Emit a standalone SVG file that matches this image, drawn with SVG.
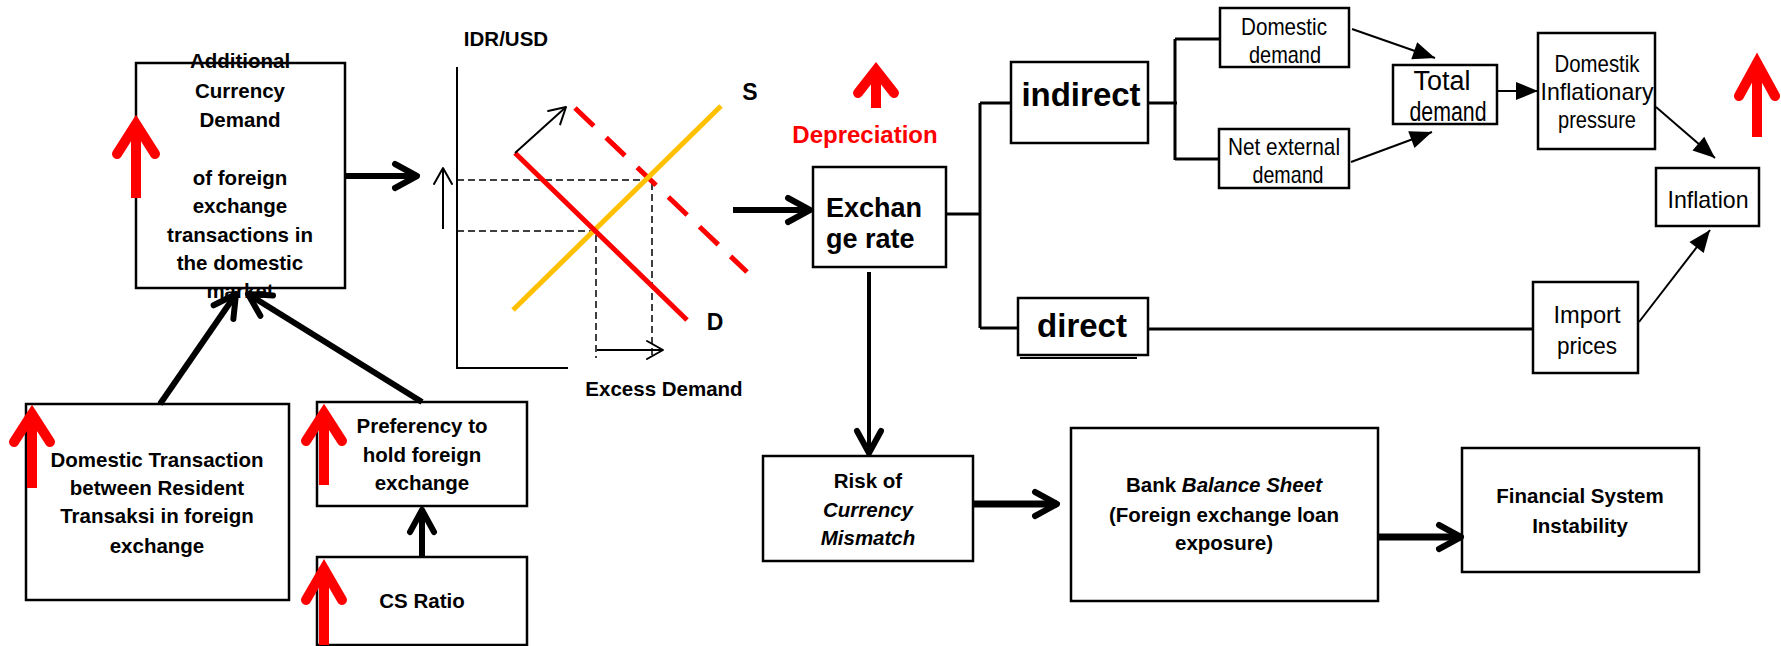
<svg xmlns="http://www.w3.org/2000/svg" width="1781" height="646" viewBox="0 0 1781 646">
<style>
.box{fill:#fff;stroke:#000;stroke-width:2.5}
.cal{font-family:"Liberation Sans",Arial,sans-serif;font-weight:bold;font-size:20.5px;text-anchor:middle;fill:#000}
.tah{font-family:"Liberation Sans",Arial,sans-serif;font-size:24px;text-anchor:middle;fill:#000}
.big{font-family:"Liberation Sans",Arial,sans-serif;font-weight:bold;font-size:33px;text-anchor:middle;fill:#000}
.thick{stroke:#000;stroke-width:6;fill:none;marker-end:url(#chev)}
.mid{stroke:#000;stroke-width:4;fill:none;marker-end:url(#chev)}
.thin{stroke:#000;stroke-width:2;fill:none;marker-end:url(#chevThin)}
.tri{stroke:#000;stroke-width:2;fill:none;marker-end:url(#tri)}
.line3{stroke:#000;stroke-width:3;fill:none}
.guide{stroke:#000;stroke-width:1.5;stroke-dasharray:7 4;fill:none}
.rshaft{stroke:#f00;stroke-width:10;fill:none}
.rhead{stroke:#f00;stroke-width:10;fill:none;stroke-linecap:round;stroke-linejoin:miter}
</style>
<defs>
<marker id="chev" markerUnits="userSpaceOnUse" orient="auto" overflow="visible" markerWidth="1" markerHeight="1" refX="0" refY="0"><path d="M-22,-12 L0,0 L-22,12" fill="none" stroke="#000" stroke-width="6" stroke-linecap="round" stroke-linejoin="round"/></marker>
<marker id="chevThin" markerUnits="userSpaceOnUse" orient="auto" overflow="visible" markerWidth="1" markerHeight="1" refX="0" refY="0"><path d="M-16,-9 L0,0 L-16,9" fill="none" stroke="#000" stroke-width="2" stroke-linecap="round" stroke-linejoin="round"/></marker>
<marker id="tri" markerUnits="userSpaceOnUse" orient="auto" overflow="visible" markerWidth="1" markerHeight="1" refX="0" refY="0"><path d="M-22,-9 L0,0 L-22,9 Z" fill="#000"/></marker>
</defs>
<rect width="1781" height="646" fill="#fff"/>

<g id="node-currency-demand">
<rect class="box" x="136" y="63" width="209" height="225"/>
<text class="cal" x="240" y="68">Additional</text>
<text class="cal" x="240" y="98">Currency</text>
<text class="cal" x="240" y="127">Demand</text>
<text class="cal" x="240" y="185">of foreign</text>
<text class="cal" x="240" y="213">exchange</text>
<text class="cal" x="240" y="242">transactions in</text>
<text class="cal" x="240" y="270">the domestic</text>
<text class="cal" x="240" y="298">market</text>
<path class="rshaft" d="M136,198 V122"/>
<path class="rhead" d="M117,154 L136,124 L155,154"/>
</g>

<g id="node-domestic-transaction">
<rect class="box" x="26" y="404" width="263" height="196"/>
<text class="cal" x="157" y="467">Domestic Transaction</text>
<text class="cal" x="157" y="495">between Resident</text>
<text class="cal" x="157" y="523">Transaksi in foreign</text>
<text class="cal" x="157" y="553">exchange</text>
<path class="rshaft" d="M32,488 V412"/>
<path class="rhead" d="M14,442 L32,414 L50,442"/>
</g>

<g id="node-preferency">
<rect class="box" x="317" y="402" width="210" height="104"/>
<text class="cal" x="422" y="433">Preferency to</text>
<text class="cal" x="422" y="462">hold foreign</text>
<text class="cal" x="422" y="490">exchange</text>
<path class="rshaft" d="M324,485 V411"/>
<path class="rhead" d="M306,441 L324,413 L342,441"/>
</g>

<g id="node-cs-ratio">
<rect class="box" x="317" y="557" width="210" height="88"/>
<text class="cal" x="422" y="608">CS Ratio</text>
<path class="rshaft" d="M324,645 V567"/>
<path class="rhead" d="M306,600 L324,569 L342,600"/>
</g>

<g id="chart">
<path d="M457,67 V368 H568" stroke="#000" stroke-width="2" fill="none"/>
<text class="cal" x="506" y="46">IDR/USD</text>
<path class="guide" d="M457,180 H652 V358"/>
<path class="guide" d="M457,231 H596 V358"/>
<line x1="575" y1="108" x2="747" y2="272" stroke="#f00" stroke-width="5" stroke-dasharray="26 17"/>
<line x1="513" y1="310" x2="721" y2="106" stroke="#FFC000" stroke-width="5"/>
<line x1="515" y1="153" x2="687" y2="320" stroke="#f00" stroke-width="5"/>
<text class="cal" x="750" y="100" style="font-size:23px">S</text>
<text class="cal" x="715" y="330" style="font-size:23px">D</text>
<text class="cal" x="664" y="396">Excess Demand</text>
<path class="thin" d="M515,153 L566,107"/>
<path class="thin" d="M597,350 H663"/>
<path class="thin" d="M443,229 V168"/>
</g>

<g id="node-depreciation">
<path class="rshaft" d="M876,108 V70"/>
<path class="rhead" d="M858,93 L876,70 L894,93"/>
<text class="cal" x="865" y="143" style="fill:#f00;font-size:24px">Depreciation</text>
</g>

<g id="node-exchange-rate">
<rect class="box" x="813" y="167" width="133" height="100"/>
<text class="cal" x="826" y="217" style="text-anchor:start;font-size:27px">Exchan</text>
<text class="cal" x="826" y="248" style="text-anchor:start;font-size:27px">ge rate</text>
</g>

<g id="node-indirect">
<rect class="box" x="1011" y="62" width="137" height="81"/>
<text class="big" x="1081" y="106">indirect</text>
</g>

<g id="node-direct">
<line x1="1020" y1="358" x2="1137" y2="358" stroke="#000" stroke-width="2"/>
<rect class="box" x="1018" y="298" width="130" height="57"/>
<text class="big" x="1082" y="337">direct</text>
</g>

<g id="node-domestic-demand">
<rect class="box" x="1220" y="8" width="129" height="59"/>
<text class="tah" x="1284" y="35" textLength="86" lengthAdjust="spacingAndGlyphs">Domestic</text>
<text class="tah" x="1285" y="63" textLength="72" lengthAdjust="spacingAndGlyphs">demand</text>
</g>

<g id="node-net-external">
<rect class="box" x="1219" y="129" width="130" height="59"/>
<text class="tah" x="1284" y="155" textLength="112" lengthAdjust="spacingAndGlyphs">Net external</text>
<text class="tah" x="1288" y="183" textLength="71" lengthAdjust="spacingAndGlyphs">demand</text>
</g>

<g id="node-total-demand">
<rect class="box" x="1393" y="65" width="104" height="59"/>
<text class="tah" x="1442" y="90" textLength="57" lengthAdjust="spacingAndGlyphs" style="font-size:27px">Total</text>
<text class="tah" x="1448" y="121" textLength="77" lengthAdjust="spacingAndGlyphs" style="font-size:27px">demand</text>
</g>

<g id="node-domestik-inflationary">
<rect class="box" x="1538" y="33" width="117" height="116"/>
<text class="tah" x="1597" y="72" textLength="85" lengthAdjust="spacingAndGlyphs">Domestik</text>
<text class="tah" x="1597" y="100" textLength="113" lengthAdjust="spacingAndGlyphs">Inflationary</text>
<text class="tah" x="1597" y="128" textLength="78" lengthAdjust="spacingAndGlyphs">pressure</text>
</g>

<g id="node-inflation">
<rect class="box" x="1656" y="168" width="103" height="58"/>
<text class="tah" x="1708" y="208" textLength="81" lengthAdjust="spacingAndGlyphs">Inflation</text>
<path class="rshaft" d="M1757,137 V61"/>
<path class="rhead" d="M1739,96 L1757,63 L1775,96"/>
</g>

<g id="node-import-prices">
<rect class="box" x="1533" y="282" width="105" height="91"/>
<text class="tah" x="1587" y="323" textLength="67" lengthAdjust="spacingAndGlyphs">Import</text>
<text class="tah" x="1587" y="354" textLength="60" lengthAdjust="spacingAndGlyphs">prices</text>
</g>

<g id="node-risk">
<rect class="box" x="763" y="456" width="210" height="105"/>
<text class="cal" x="868" y="488">Risk of</text>
<text class="cal" x="868" y="517" font-style="italic">Currency</text>
<text class="cal" x="868" y="545" font-style="italic">Mismatch</text>
</g>

<g id="node-bank">
<rect class="box" x="1071" y="428" width="307" height="173"/>
<text class="cal" x="1224" y="492">Bank <tspan font-style="italic">Balance Sheet</tspan></text>
<text class="cal" x="1224" y="522">(Foreign exchange loan</text>
<text class="cal" x="1224" y="550">exposure)</text>
</g>

<g id="node-financial">
<rect class="box" x="1462" y="448" width="237" height="124"/>
<text class="cal" x="1580" y="503">Financial System</text>
<text class="cal" x="1580" y="533">Instability</text>
</g>

<g id="connectors">
<path class="thick" d="M345,176 H417"/>
<path class="thick" d="M160,404 L236,294"/>
<path class="thick" d="M422,402 L248,294"/>
<path class="thick" d="M422,557 V510"/>
<path class="thick" d="M733,210 H810"/>
<path class="line3" d="M946,214 H980 M980,103 V328 M980,103 H1011 M980,328 H1018"/>
<path class="line3" d="M1148,103 H1177 M1175,39 V160 M1175,39 H1220 M1175,159 H1219"/>
<path class="line3" d="M1148,329 H1533"/>
<path class="tri" d="M1352,29 L1435,58"/>
<path class="tri" d="M1351,162 L1432,132"/>
<path class="tri" d="M1497,91 H1538"/>
<path class="tri" d="M1656,107 L1715,158"/>
<path class="tri" d="M1639,322 L1710,230"/>
<path class="mid" d="M869,272 V453"/>
<path class="thick" d="M973,504 H1057" style="stroke-width:7"/>
<path class="thick" d="M1378,537 H1461" style="stroke-width:7"/>
</g>
</svg>
